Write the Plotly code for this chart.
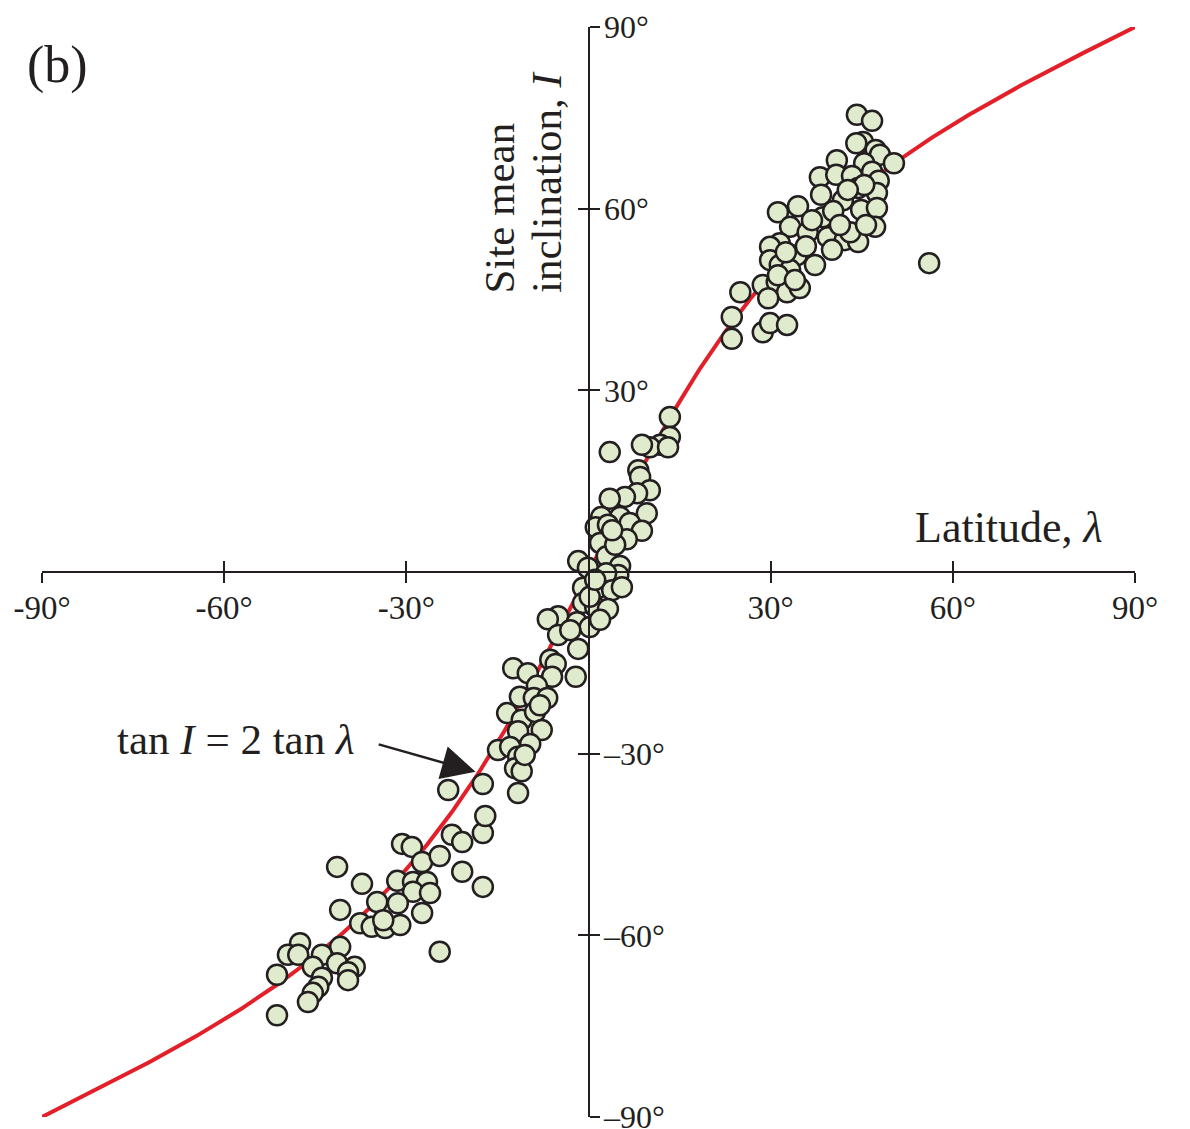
import numpy as np
import plotly.graph_objects as go

# Site latitude (deg) and site mean inclination (deg)
latitude = [
    44.2, 46.7, 45.2, 44.1, 47.3, 48.0, 50.3, 40.9, 45.4, 38.1, 40.8, 43.4, 46.7, 47.8,
    38.3, 41.9, 44.4, 47.5, 45.4, 34.5, 31.2, 38.6, 44.9, 47.5, 40.3, 33.2, 36.1, 39.4,
    42.2, 44.4, 47.2, 43.1, 31.5, 29.9, 34.3, 37.3, 40.1, 29.9, 31.5, 33.2, 56.1, 28.7,
    31.0, 32.7, 34.8, 29.6, 25.0, 23.6, 23.6, 28.7, 29.9, 32.7, 42.7, 45.7, 35.8, 32.5,
    31.2, 34.0, 36.8, 41.4,
    13.4, 13.4, 11.8, 10.1, 8.8, 13.1, 3.5, 8.2, 8.5, 10.1, 8.0, 6.0, 3.5, 9.6, 5.2,
    6.8, 2.1, 1.2, 3.2, 8.8, 6.3, 1.9, 3.0, -1.7, -0.1, 5.2, 4.9, 2.9, -0.9, 1.6, 3.9,
    -0.9, 1.1, 3.2, 5.5, -5.0, -6.7, -1.9, 0.2, -5.0, -1.7, -6.3, -5.4, -12.4, -10.0,
    -6.0, -2.1, -8.5, -11.3, -9.0, -6.8, -13.4, -11.0, -8.8, -7.7, -11.6, -14.9, -12.9,
    -9.6, -11.6, -12.1, -11.0, -11.6, -17.4, -23.1, 4.4, 0.2, 1.9, -8.0, -10.5, -3.0,
    3.9, 1.1,
    -41.4, -37.3, -31.5, -30.7, -29.1, -27.4, -24.5, -22.5, -20.8, -17.4, -17.0, -20.8,
    -17.4, -28.9, -26.6, -28.9, -26.1, -34.8, -31.4, -40.9, -27.4, -37.6, -35.7, -33.5,
    -31.0, -33.8, -24.5, -47.5, -49.5, -47.8, -40.9, -43.9, -45.4, -41.4, -38.5, -39.6,
    -39.6, -43.9, -44.5, -45.4, -46.2, -51.3, -51.3,
]
inclination = [
    75.5, 74.5, 71.0, 70.8, 69.7, 68.9, 67.5, 68.0, 67.5, 65.2, 65.6, 65.4, 66.1, 64.6,
    62.3, 61.4, 63.4, 62.6, 63.9, 60.4, 59.4, 58.6, 59.8, 60.1, 59.6, 57.0, 56.1, 55.3,
    54.8, 54.5, 57.0, 56.1, 54.3, 53.7, 52.3, 50.7, 53.2, 51.5, 50.7, 49.9, 51.0, 47.4,
    47.9, 46.2, 46.9, 45.2, 46.2, 42.1, 38.5, 39.6, 41.1, 40.8, 63.1, 57.3, 53.8, 52.8,
    49.0, 48.2, 58.1, 57.3,
    25.6, 22.3, 21.0, 20.6, 21.0, 20.6, 19.8, 16.8, 15.7, 13.5, 13.0, 12.4, 12.1, 9.7, 9.1,
    8.1, 9.1, 7.4, 7.8, 6.8, 5.4, 4.8, 2.6, 1.8, 0.7, 1.0, -0.5, -0.2, -2.6, -2.6, -3.0,
    -5.1, -5.8, -6.1, -2.5, -7.3, -7.8, -8.3, -9.1, -10.4, -12.7, -14.5, -15.2, -15.9, -16.7,
    -17.3, -17.3, -18.8, -20.6, -20.8, -20.8, -23.3, -24.4, -23.1, -26.1, -26.3, -29.4, -28.9,
    -28.4, -30.5, -32.4, -32.9, -36.5, -35.0, -36.0, 4.5, -4.1, -7.9, -22.0, -30.2, -9.6,
    6.9, -1.3,
    -48.7, -51.5, -51.0, -44.9, -45.4, -47.9, -46.9, -43.4, -44.6, -43.1, -40.3, -49.5,
    -52.0, -51.2, -51.2, -52.8, -53.0, -54.5, -54.7, -55.8, -56.3, -58.0, -58.6, -58.8,
    -58.3, -57.5, -62.7, -61.3, -63.2, -63.2, -61.9, -63.2, -65.2, -64.6, -65.2, -66.1,
    -67.4, -67.0, -68.5, -69.5, -71.0, -66.5, -73.2,
]

x_tickvals = [-90, -60, -30, 30, 60, 90]
x_ticktext = ["-90°", "-60°", "-30°", "30°", "60°", "90°"]
y_tickvals = [90, 60, 30, -30, -60, -90]
y_ticktext = ["90°", "60°", "30°", "–30°", "–60°", "–90°"]

# Theoretical dipole relation tan I = 2 tan(lambda)
lam = np.linspace(-90, 90, 721)
lam_r = np.radians(lam)
inc_curve = np.degrees(np.arctan2(2 * np.sin(lam_r), np.cos(lam_r)))

FONT = "Liberation Serif"
INK = "#231F20"

fig = go.Figure()
fig.add_trace(go.Scatter(
    x=lam, y=inc_curve, mode="lines",
    line=dict(color="#E3202A", width=4), hoverinfo="skip", cliponaxis=False,
))
fig.add_trace(go.Scatter(
    x=latitude, y=inclination, mode="markers",
    marker=dict(size=20, color="#DFEBCC", line=dict(color=INK, width=2.5)),
    cliponaxis=False,
))
# invisible trace to carry the overlay axes (inner half of crossing ticks)
fig.add_trace(go.Scatter(x=[0], y=[0], xaxis="x2", yaxis="y2", mode="markers",
                         marker=dict(opacity=0), hoverinfo="skip"))

common = dict(range=[-90, 90], showgrid=False, zeroline=False, automargin=False,
              showline=True, linecolor=INK, linewidth=2, ticklen=10,
              tickwidth=2, tickcolor=INK)

fig.update_layout(
    width=1182, height=1129,
    margin=dict(l=34, r=55, t=19, b=20),
    plot_bgcolor="white", paper_bgcolor="white",
    showlegend=False,
    font=dict(family=FONT, color=INK),
    xaxis=dict(**common, anchor="free", position=0.5, side="bottom", ticks="outside",
               tickvals=x_tickvals, ticktext=x_ticktext, ticklabelstandoff=-4,
               ticklabeloverflow="allow",
               tickfont=dict(family=FONT, size=33, color=INK)),
    yaxis=dict(**common, anchor="free", position=0.5, side="right", ticks="outside",
               tickvals=y_tickvals, ticktext=y_ticktext, ticklabelstandoff=-2,
               ticklabeloverflow="allow",
               tickfont=dict(family=FONT, size=32, color=INK)),
    xaxis2=dict(**common, overlaying="x", anchor="free", position=0.5, side="bottom",
                ticks="inside", tickvals=x_tickvals, showticklabels=False),
    yaxis2=dict(**common, overlaying="y", anchor="free", position=0.5, side="right",
                ticks="inside", tickvals=y_tickvals, showticklabels=False),
)

fig.add_annotation(x=-87.5, y=83.7, xref="x", yref="y", text="(b)", showarrow=False,
                   xanchor="center", yanchor="middle", font=dict(size=52, family=FONT, color=INK))
fig.add_annotation(x=85.1, y=7.4, xref="x", yref="y", text="Latitude, <i>λ</i>",
                   showarrow=False, xanchor="right", yanchor="middle",
                   font=dict(size=44, family=FONT, color=INK))
fig.add_annotation(x=-14.6, y=45.7, xref="x", yref="y", text="Site mean",
                   textangle=-90, showarrow=False, xanchor="center", yanchor="bottom",
                   font=dict(size=43, family=FONT, color=INK))
fig.add_annotation(x=-6.8, y=45.7, xref="x", yref="y", text="inclination, <i>I</i>",
                   textangle=-90, showarrow=False, xanchor="center", yanchor="bottom",
                   font=dict(size=43, family=FONT, color=INK))
fig.add_annotation(x=-38.1, y=-27.7, xref="x", yref="y",
                   text="tan <i>I</i> = 2 tan <i>λ</i>", showarrow=False,
                   xanchor="right", yanchor="middle",
                   font=dict(size=43, family=FONT, color=INK))
fig.add_annotation(x=-18.6, y=-33.0, xref="x", yref="y", ax=-34.8, ay=-28.4,
                   axref="x", ayref="y", text="", showarrow=True,
                   arrowhead=2, arrowsize=2.7, arrowwidth=2.5, arrowcolor=INK)

fig.write_html("out.html")
